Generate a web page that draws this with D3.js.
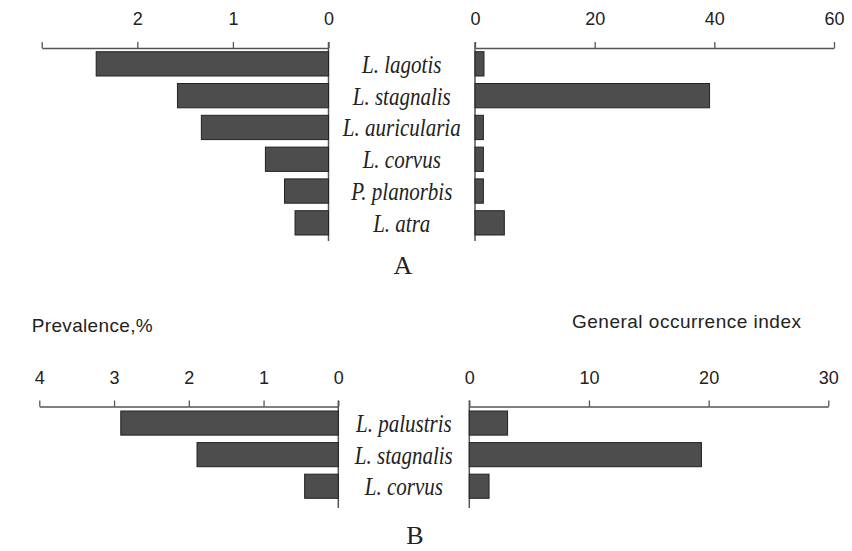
<!DOCTYPE html>
<html>
<head>
<meta charset="utf-8">
<script src="https://cdn.jsdelivr.net/npm/d3@7"></script>
<style>
  body { margin: 0; background: #fff; }
  svg { display: block; }
  .sp { font-family: "Liberation Serif", "Times New Roman", serif; font-style: italic; font-size: 21px; fill: #222; }
  .panel { font-family: "Liberation Serif", "Times New Roman", serif; font-size: 26px; fill: #222; }
  .ttl { font-family: "Liberation Sans", Arial, sans-serif; font-size: 19px; fill: #222; }
</style>
</head>
<body>
<svg id="chart" width="852" height="551"></svg>
<script>
// panel A
const speciesA = ["L. lagotis", "L. stagnalis", "L. auricularia", "L. corvus", "P. planorbis", "L. atra"];
const prevA = [2.43, 1.58, 1.33, 0.66, 0.46, 0.35];
const occA = [1.5, 39.2, 1.4, 1.4, 1.4, 4.9];
const prevTicksA = [0, 1, 2, 3];
const prevLabelsA = ["0", "1", "2", ""];
const occTicksA = [0, 20, 40, 60];

// panel B
const speciesB = ["L. palustris", "L. stagnalis", "L. corvus"];
const prevB = [2.91, 1.89, 0.45];
const occB = [3.2, 19.4, 1.65];
const prevTicksB = [0, 1, 2, 3, 4];
const occTicksB = [0, 10, 20, 30];

const svg = d3.select("#chart");

function drawPanel(o) {
  var g = svg.append("g");

  var xl = d3.scaleLinear().domain([0, o.prevMax]).range([o.leftZero, o.leftEnd]);
  var xr = d3.scaleLinear().domain([0, o.occMax]).range([o.rightZero, o.rightEnd]);
  var y = d3.scaleBand().domain(o.species).range([o.barTop, o.barBottom])
    .paddingInner(0.236).paddingOuter(0);

  // axes along the top, ticks pointing up
  var axL = d3.axisTop(xl).tickValues(o.prevTicks).tickSize(6).tickSizeOuter(0)
    .tickFormat((d, i) => o.prevLabels ? o.prevLabels[i] : d);
  var axR = d3.axisTop(xr).tickValues(o.occTicks).tickSize(6).tickSizeOuter(0);

  [axL, axR].forEach(function(ax) {
    var a = g.append("g").attr("transform", "translate(0," + o.axisY + ")").call(ax)
      .attr("font-family", "Liberation Sans, Arial, sans-serif").attr("font-size", 18);
    a.select(".domain").attr("stroke", "#555").attr("stroke-width", 1.4);
    a.selectAll(".tick line").attr("stroke", "#555").attr("stroke-width", 1.3);
    a.selectAll(".tick text").attr("fill", "#222").attr("dy", null).attr("y", o.labelY - o.axisY);
  });

  // vertical zero lines
  g.append("line").attr("x1", xl(0)).attr("x2", xl(0))
    .attr("y1", o.axisY - 6).attr("y2", o.vEnd).attr("stroke", "#555").attr("stroke-width", 1.5);
  g.append("line").attr("x1", xr(0)).attr("x2", xr(0))
    .attr("y1", o.axisY - 6).attr("y2", o.vEnd).attr("stroke", "#555").attr("stroke-width", 1.5);

  // left bars (prevalence)
  g.selectAll(".barL").data(o.prev).enter().append("rect")
    .attr("x", d => xl(d)).attr("width", d => xl(0) - xl(d))
    .attr("y", (d, i) => y(o.species[i])).attr("height", y.bandwidth())
    .attr("fill", "#4d4d4d").attr("stroke", "#222").attr("stroke-width", 1);

  // right bars (occurrence)
  g.selectAll(".barR").data(o.occ).enter().append("rect")
    .attr("x", xr(0)).attr("width", d => xr(d) - xr(0))
    .attr("y", (d, i) => y(o.species[i])).attr("height", y.bandwidth())
    .attr("fill", "#4d4d4d").attr("stroke", "#222").attr("stroke-width", 1);

  var mid = (xl(0) + xr(0)) / 2;
  g.selectAll(".sp").data(o.species).enter().append("text")
    .attr("class", "sp").attr("text-anchor", "middle")
    .attr("transform", d => "translate(" + mid + "," + (y(d) + y.bandwidth() / 2 + 9) + ") scale(1,1.2)")
    .text(d => d);

  g.append("text").attr("class", "panel").attr("text-anchor", "middle")
    .attr("x", o.panelX).attr("y", o.panelY).text(o.panel);
}

drawPanel({
  species: speciesA, prev: prevA, occ: occA,
  prevMax: 3, occMax: 60,
  prevTicks: prevTicksA, prevLabels: prevLabelsA, occTicks: occTicksA,
  leftZero: 328.5, leftEnd: 41.7, rightZero: 475, rightEnd: 834,
  axisY: 48, labelY: 25, barTop: 51.7, barBottom: 235, vEnd: 241,
  panel: "A", panelX: 403, panelY: 274
});

drawPanel({
  species: speciesB, prev: prevB, occ: occB,
  prevMax: 4, occMax: 30,
  prevTicks: prevTicksB, prevLabels: null, occTicks: occTicksB,
  leftZero: 338.3, leftEnd: 39.3, rightZero: 469.3, rightEnd: 828.3,
  axisY: 406.5, labelY: 384, barTop: 411, barBottom: 498.3, vEnd: 508,
  panel: "B", panelX: 415, panelY: 544
});

svg.append("text").attr("class", "ttl").attr("x", 31.7).attr("y", 332)
  .attr("textLength", 121).text("Prevalence,%");
svg.append("text").attr("class", "ttl").attr("x", 572).attr("y", 328)
  .attr("textLength", 229).text("General occurrence index");
</script>
</body>
</html>
